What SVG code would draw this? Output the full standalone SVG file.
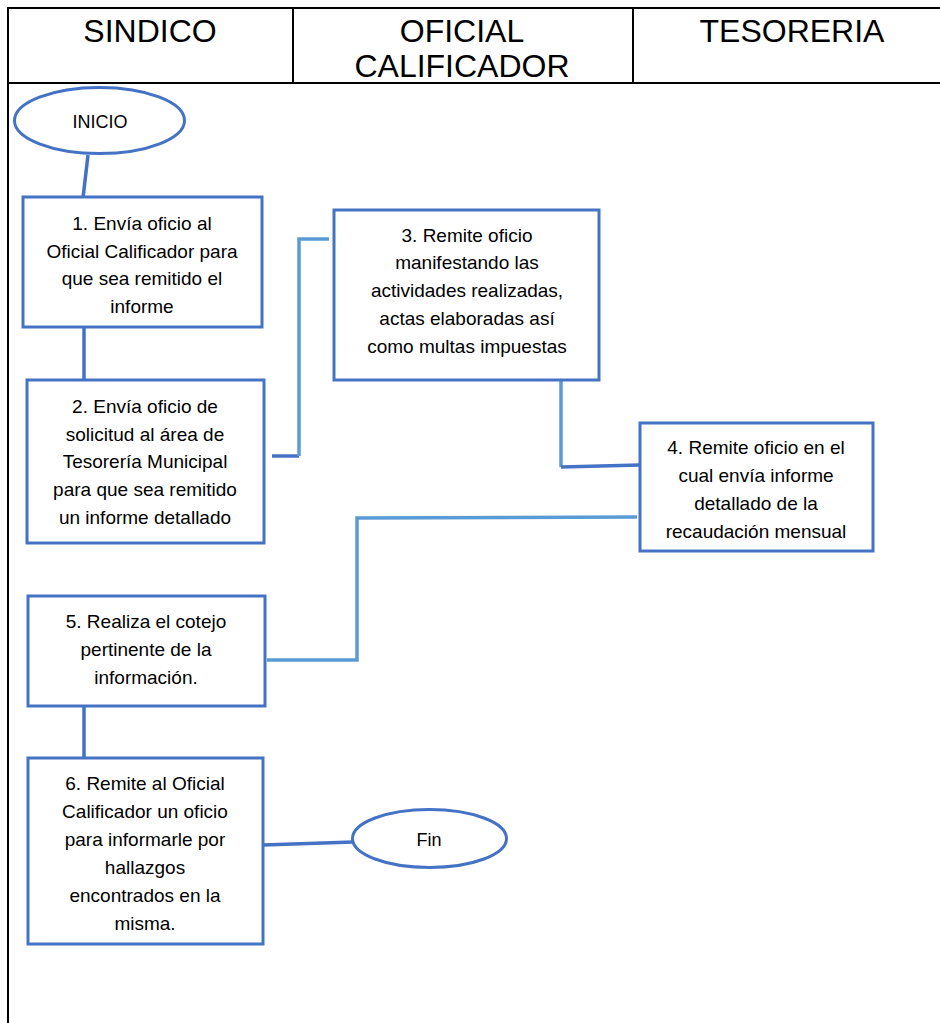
<svg xmlns="http://www.w3.org/2000/svg" width="940" height="1023" viewBox="0 0 940 1023">
<style>
.hdr{font-family:"Liberation Sans",Arial,sans-serif;font-size:32px;fill:#000;text-anchor:middle}
.t{font-family:"Liberation Sans",Arial,sans-serif;font-size:19px;fill:#000;text-anchor:middle}
.box{fill:#fff;stroke:#4472C4;stroke-width:3}
.dk{stroke:#4472C4;stroke-width:3.5;fill:none}
.lt{stroke:#5B9BD5;stroke-width:3.5;fill:none}
.tbl{stroke:#000;stroke-width:2;fill:none}
</style>
<rect width="940" height="1023" fill="#fff"/>
<g id="table">
<line class="tbl" x1="8" y1="8" x2="940" y2="8"/>
<line class="tbl" x1="8" y1="83" x2="940" y2="83"/>
<line class="tbl" x1="8" y1="7" x2="8" y2="1023"/>
<line class="tbl" x1="293" y1="8" x2="293" y2="83"/>
<line class="tbl" x1="633" y1="8" x2="633" y2="83"/>
<text class="hdr" x="150" y="42">SINDICO</text>
<text class="hdr" x="462" y="42">OFICIAL</text>
<text class="hdr" x="462" y="77">CALIFICADOR</text>
<text class="hdr" x="792" y="42">TESORERIA</text>
</g>
<g id="connectors">
<line class="dk" x1="88" y1="155" x2="83" y2="198"/>
<line class="dk" x1="84" y1="327" x2="84" y2="380"/>
<line class="dk" x1="272" y1="456" x2="299" y2="456"/>
<polyline class="lt" points="299,456 299,239 329,239"/>
<polyline class="lt" points="561,372 561,467"/>
<line class="dk" x1="561" y1="467" x2="640" y2="465"/>
<polyline class="lt" points="637,517 357,518 357,660 267,660"/>
<line class="dk" x1="84" y1="706" x2="84" y2="758"/>
<line class="dk" x1="263" y1="845" x2="353" y2="842"/>
</g>
<g id="inicio">
<ellipse class="box" cx="99.5" cy="120.5" rx="85" ry="33"/>
<text class="t" x="100" y="128" style="font-size:18px">INICIO</text>
</g>
<g id="n1">
<rect class="box" x="23" y="197" width="239" height="130"/>
<text class="t" x="142" y="230">1. Envía oficio al</text>
<text class="t" x="142" y="258">Oficial Calificador para</text>
<text class="t" x="142" y="285">que sea remitido el</text>
<text class="t" x="142" y="313">informe</text>
</g>
<g id="n2">
<rect class="box" x="27" y="380" width="237" height="163"/>
<text class="t" x="145" y="413">2. Envía oficio de</text>
<text class="t" x="145" y="441">solicitud al área de</text>
<text class="t" x="145" y="468">Tesorería Municipal</text>
<text class="t" x="145" y="496">para que sea remitido</text>
<text class="t" x="145" y="524">un informe detallado</text>
</g>
<g id="n3">
<rect class="box" x="334" y="210" width="265" height="170"/>
<text class="t" x="467" y="242">3. Remite oficio</text>
<text class="t" x="467" y="269">manifestando las</text>
<text class="t" x="467" y="297">actividades realizadas,</text>
<text class="t" x="467" y="325">actas elaboradas así</text>
<text class="t" x="467" y="353">como multas impuestas</text>
</g>
<g id="n4">
<rect class="box" x="640" y="423" width="233" height="128"/>
<text class="t" x="756" y="454">4. Remite oficio en el</text>
<text class="t" x="756" y="482">cual envía informe</text>
<text class="t" x="756" y="510">detallado de la</text>
<text class="t" x="756" y="538">recaudación mensual</text>
</g>
<g id="n5">
<rect class="box" x="28" y="596" width="237" height="110"/>
<text class="t" x="146" y="628">5. Realiza el cotejo</text>
<text class="t" x="146" y="656">pertinente de la</text>
<text class="t" x="146" y="684">información.</text>
</g>
<g id="n6">
<rect class="box" x="28" y="758" width="235" height="186"/>
<text class="t" x="145" y="790">6. Remite al Oficial</text>
<text class="t" x="145" y="818">Calificador un oficio</text>
<text class="t" x="145" y="846">para informarle por</text>
<text class="t" x="145" y="874">hallazgos</text>
<text class="t" x="145" y="902">encontrados en la</text>
<text class="t" x="145" y="930">misma.</text>
</g>
<g id="fin">
<ellipse class="box" cx="429.5" cy="838.5" rx="77" ry="29"/>
<text class="t" x="429" y="846" style="font-size:18px">Fin</text>
</g>
</svg>
